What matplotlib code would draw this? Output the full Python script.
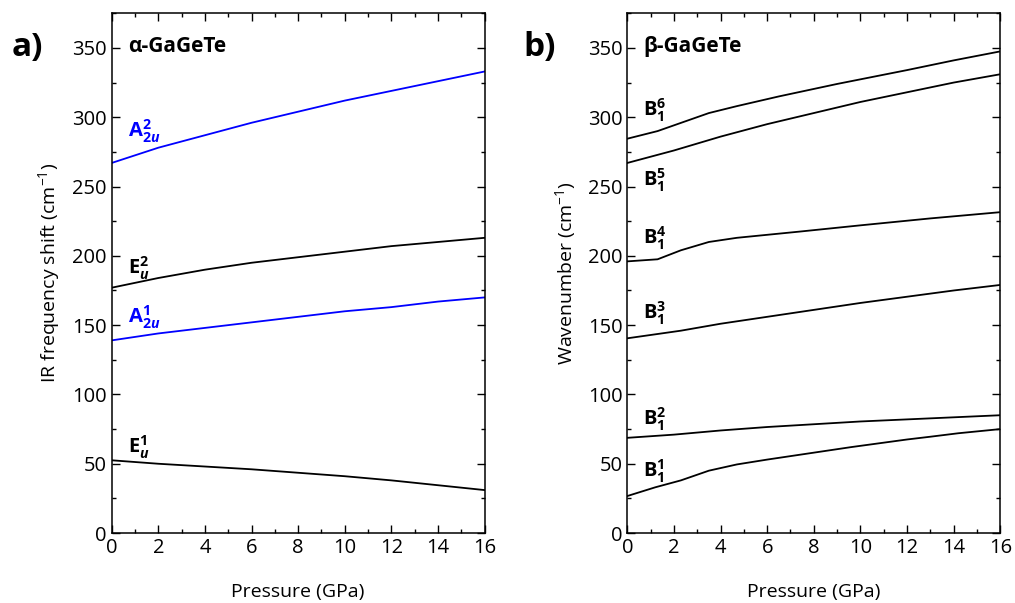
"""
Pressure dependence of IR-active modes in alpha- and beta-GaGeTe.
"""

import matplotlib
matplotlib.use("Agg")
import matplotlib.pyplot as plt
from matplotlib.ticker import MultipleLocator

plt.rcParams["font.family"] = ["Open Sans", "DejaVu Sans"]
plt.rcParams["mathtext.fontset"] = "custom"
plt.rcParams["mathtext.rm"] = "Open Sans"
plt.rcParams["mathtext.it"] = "Open Sans:italic"
plt.rcParams["mathtext.bf"] = "Open Sans:bold"
plt.rcParams["mathtext.bfit"] = "Open Sans:bold:italic"

# ---------------------------------------------------------
# Data
# ---------------------------------------------------------
# alpha-GaGeTe
p_alpha = [0, 2, 4, 6, 8, 10, 12, 14, 16]
a2u_2 = [267, 278, 287, 296, 304, 312, 319, 326, 333]
eu_2 = [177, 184, 190, 195, 199, 203, 207, 210, 213]
a2u_1 = [139, 144, 148, 152, 156, 160, 163, 167, 170]
eu_1 = [52.5, 50, 48, 46, 43.5, 41, 38, 34.5, 31]

# beta-GaGeTe
p_b6 = [0, 1.3, 3.5, 4.7, 6.5, 9, 12, 14, 16]
b1_6 = [284.5, 290, 303, 308, 315, 324, 334, 341, 347.5]
p_b5 = [0, 2, 4, 6, 8, 10, 12, 14, 16]
b1_5 = [267, 276, 286, 295, 303, 311, 318, 325, 331]
p_b4 = [0, 1.3, 2.3, 3.5, 4.7, 7.4, 10, 13, 16]
b1_4 = [196, 197.5, 204, 210, 213, 217.5, 222, 227, 231.5]
p_b3 = [0, 2.3, 4, 6, 8, 10, 12, 14, 16]
b1_3 = [140.5, 146, 151, 156, 161, 166, 170.5, 175, 179]
p_b2 = [0, 2, 4, 6, 8, 10, 12, 14, 16]
b1_2 = [68.7, 71, 74, 76.5, 78.5, 80.5, 82, 83.5, 85]
p_b1 = [0, 1.2, 2.3, 3.5, 4.7, 6, 8, 9.6, 12, 13, 14.2, 16]
b1_1 = [26.7, 33, 38, 45, 49.5, 53, 58, 62, 67.5, 69.5, 72, 75]

# mode labels: (text, y, colour)
alpha_labels = [
    (r"$\mathbf{A}_{\mathbf{2}\mathbfit{u}}^{\mathbf{2}}$", 285.5, "blue"),
    (r"$\mathbf{E}_{\mathbfit{u}}^{\mathbf{2}}$", 186.5, "black"),
    (r"$\mathbf{A}_{\mathbf{2}\mathbfit{u}}^{\mathbf{1}}$", 151.5, "blue"),
    (r"$\mathbf{E}_{\mathbfit{u}}^{\mathbf{1}}$", 57.5, "black"),
]
beta_modes = [6, 5, 4, 3, 2, 1]
beta_label_y = [301, 250, 208, 154, 78, 40]

PRESSURE_LABEL = "Pressure (GPa)"


def style_axes(ax):
    ax.set_xlim(0, 16)
    ax.set_ylim(0, 375)
    ax.xaxis.set_major_locator(MultipleLocator(2))
    ax.xaxis.set_minor_locator(MultipleLocator(1))
    ax.yaxis.set_major_locator(MultipleLocator(50))
    ax.yaxis.set_minor_locator(MultipleLocator(25))
    ax.tick_params(which="both", direction="in", top=True, right=True,
                   width=1.0, labelsize=14.5)
    ax.tick_params(which="major", length=6)
    ax.tick_params(which="minor", length=3)
    for sp in ax.spines.values():
        sp.set_linewidth(1.1)
    ax.set_xlabel(PRESSURE_LABEL, fontsize=14, labelpad=18)


fig = plt.figure(figsize=(10.15, 6.03), dpi=100)
ax1 = fig.add_axes([0.110, 0.116, 0.3675, 0.862])
ax2 = fig.add_axes([0.618, 0.116, 0.3675, 0.862])

lw = 1.3

# ---------------------------------------------------------
# a) alpha-GaGeTe
# ---------------------------------------------------------
ax1.plot(p_alpha, a2u_2, color="blue", lw=lw)
ax1.plot(p_alpha, eu_2, color="black", lw=lw)
ax1.plot(p_alpha, a2u_1, color="blue", lw=lw)
ax1.plot(p_alpha, eu_1, color="black", lw=lw)
style_axes(ax1)
ax1.set_ylabel("IR frequency shift (cm$^{\\mathregular{-1}}$)", fontsize=14,
               labelpad=7)

for txt, y, col in alpha_labels:
    ax1.text(0.69, y, txt, fontsize=14.5, color=col, ha="left",
             va="baseline")
ax1.text(0.7, 351, "α-GaGeTe", fontsize=15, fontweight="bold",
         ha="left", va="center")
fig.text(0.011, 0.922, "a)", fontsize=24, fontweight="bold",
         ha="left", va="center")

# ---------------------------------------------------------
# b) beta-GaGeTe
# ---------------------------------------------------------
ax2.plot(p_b6, b1_6, color="black", lw=lw)
ax2.plot(p_b5, b1_5, color="black", lw=lw)
ax2.plot(p_b4, b1_4, color="black", lw=lw)
ax2.plot(p_b3, b1_3, color="black", lw=lw)
ax2.plot(p_b2, b1_2, color="black", lw=lw)
ax2.plot(p_b1, b1_1, color="black", lw=lw)
style_axes(ax2)
ax2.set_ylabel("Wavenumber (cm$^{\\mathregular{-1}}$)", fontsize=14,
               labelpad=7)

for n, y in zip(beta_modes, beta_label_y):
    ax2.text(0.69, y, r"$\mathbf{B}_{\mathbf{1}}^{\mathbf{%d}}$" % n,
             fontsize=14.5, color="black", ha="left", va="baseline")
ax2.text(0.7, 351, "β-GaGeTe", fontsize=15, fontweight="bold",
         ha="left", va="center")
fig.text(0.516, 0.922, "b)", fontsize=24, fontweight="bold",
         ha="left", va="center")

fig.savefig("out.png", dpi=100)
